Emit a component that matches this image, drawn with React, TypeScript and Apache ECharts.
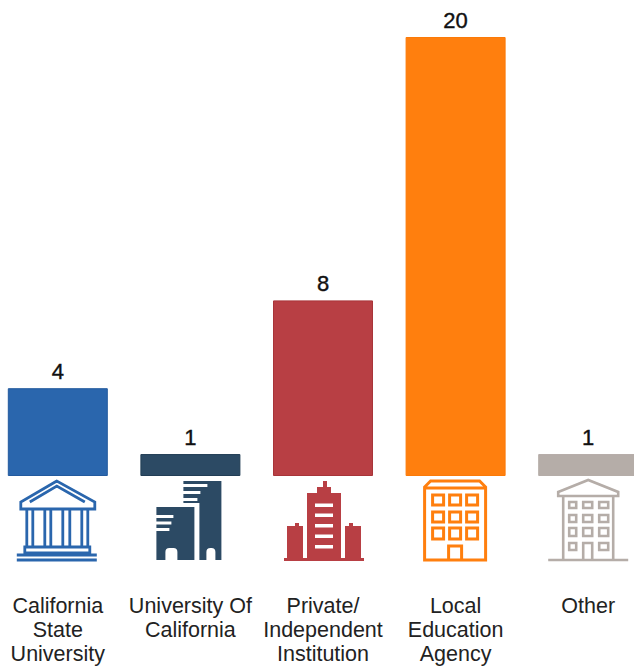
import React, { useEffect, useRef } from "react";
import * as echarts from "echarts";

const categories = [
  "California\nState\nUniversity",
  "University Of\nCalifornia",
  "Private/\nIndependent\nInstitution",
  "Local\nEducation\nAgency",
  "Other",
];
const values = [4, 1, 8, 20, 1];
const barColors = ["#2a66ad", "#2c4a64", "#b83f44", "#ff7f0e", "#b5ada8"];
const borderColors = ["#235a9e", "#223d55", "#a83439", "#fb7a08", "#b5ada8"];

const rect = (x0: number, y0: number, x1: number, y1: number) =>
  `M${x0} ${y0}H${x1}V${y1}H${x0}Z`;
// counter-wound rectangle: cuts a hole in a filled outline
const hole = (x0: number, y0: number, x1: number, y1: number) =>
  `M${x0} ${y0}V${y1}H${x1}V${y0}Z`;

// Icon outlines, in pixels relative to the foot of each bar
const iconFilled = [false, true, true, false, false];
const iconPaths = [
  // classical columned building
  "M-1 5L-37 26V33H37V26L-1 5Z M-28 26L-1 10L27 26" +
    rect(-31, 33, -25, 71) + rect(-13, 33, -7, 71) + rect(5, 33, 12, 71) + rect(24, 33, 30, 71) +
    rect(-33, 71, 32, 77) + "M-41 79H39M-41 84H39",
  // two dark towers
  "M-7 5H31V84H25V76Q25 72 21 72H20Q16 72 16 76V84H9V27H-7Z" +
    hole(-7, 8, 17, 11) + hole(-7, 15, 10, 18) + hole(-7, 22, 7, 25) +
    "M-34 31H4V84H-13V76Q-13 72 -17 72H-21Q-25 72 -25 76V84H-34Z" +
    hole(-34, 39, -17, 42) + hole(-34, 45.5, -19, 48.5) + hole(-34, 52, -21, 55),
  // tower block with two wings
  "M0 5H4V11H8V17H18V82H41V85H-39V82H-16V17H-6V11H0Z" +
    hole(-8, 27.5, 10, 31) + hole(-8, 37.5, 10, 41) + hole(-8, 48, 10, 51.5) + hole(-8, 58.5, 10, 62) + hole(-8, 69, 10, 72.5) +
    "M-36 82V50H-28V47H-24V50H-20V82Z M22 82V50H26V47H30V50H38V82Z",
  // office block with windows
  "M-25 5H24L30 11V84H-31V11Z M-31 12H30" +
    rect(-23, 19, -12, 29) + rect(-6, 19, 5, 29) + rect(11, 19, 22, 29) +
    rect(-23, 36, -12, 46) + rect(-6, 36, 5, 46) + rect(11, 36, 22, 46) +
    rect(-23, 52, -12, 63) + rect(-6, 52, 5, 63) + rect(11, 52, 22, 63) +
    "M-7 84V70H6V84",
  // apartment block with a pitched roof
  "M-30 16L0 4L30 16V20H-30Z M-25 20V84M25 20V84M-40 84H40" +
    rect(-19, 26, -12, 32) + rect(-5, 26, 4, 32) + rect(11, 26, 20, 32) +
    rect(-19, 39, -12, 46) + rect(-5, 39, 4, 46) + rect(11, 39, 20, 46) +
    rect(-19, 52, -12, 60) + rect(-5, 52, 4, 60) + rect(11, 52, 20, 60) +
    rect(-19, 67, -12, 74) + rect(11, 67, 20, 74) + "M-5 84V67H4V84",
];
const iconStrokes = [2.8, 0, 0, 3, 2.6];

export default function App() {
  const ref = useRef<HTMLDivElement>(null);
  useEffect(() => {
    document.body.style.margin = "0";
    document.body.style.overflow = "hidden";
    const chart = echarts.init(ref.current!, undefined, { renderer: "svg" });
    chart.setOption({
      animation: false,
      grid: { left: -8.5, width: 663, top: 37, height: 439, outerBoundsMode: "none" },
      xAxis: {
        type: "category",
        data: categories,
        axisLine: { show: false },
        axisTick: { show: false },
        axisLabel: {
          interval: 0,
          margin: 118,
          color: "#222222",
          fontFamily: "Liberation Sans",
          fontSize: 21.5,
          lineHeight: 24,
          verticalAlign: "top",
          hideOverlap: false,
        },
      },
      yAxis: { type: "value", min: 0, max: 20, show: false },
      series: [
        {
          type: "bar",
          data: values.map((v, i) => ({
            value: v,
            itemStyle: { color: barColors[i], borderColor: borderColors[i], borderWidth: 1 },
          })),
          barWidth: 100,
          label: {
            show: true,
            position: "top",
            distance: 6,
            color: "#111111",
            fontFamily: "Liberation Sans",
            fontSize: 22,
            textBorderColor: "#111111",
            textBorderWidth: 0.4,
          },
        },
        {
          type: "custom",
          silent: true,
          clip: false,
          data: values.map((_, i) => [i, 0]),
          encode: { x: 0, y: 1 },
          renderItem: (params: any, api: any) => {
            const i = params.dataIndex;
            const [cx, cy] = api.coord([api.value(0), 0]);
            const filled = iconFilled[i];
            return {
              type: "group",
              x: cx,
              y: cy,
              children: [
                {
                  type: "path",
                  shape: { pathData: iconPaths[i] },
                  style: filled
                    ? { fill: barColors[i], stroke: "none" }
                    : { fill: "none", stroke: barColors[i], lineWidth: iconStrokes[i] },
                },
              ],
            };
          },
        },
      ],
    });
    return () => chart.dispose();
  }, []);
  return <div ref={ref} style={{ width: 634, height: 666, position: "absolute", left: 0, top: 0 }} />;
}
